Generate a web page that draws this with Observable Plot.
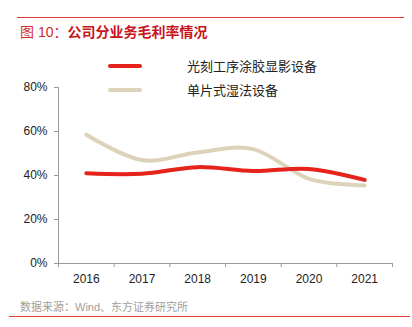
<!DOCTYPE html>
<html>
<head>
<meta charset="utf-8">
<script src="https://cdn.jsdelivr.net/npm/d3@7"></script>
<script src="https://cdn.jsdelivr.net/npm/@observablehq/plot@0.6"></script>
<style>
  html, body { margin: 0; padding: 0; background: #fff; }
  #wrap { position: relative; width: 412px; height: 327px; overflow: hidden; font-family: "Liberation Sans", "Noto Sans CJK SC", sans-serif; }
  #chart { position: absolute; left: 0; top: 0; }
  .topline { position: absolute; left: 17px; top: 17px; width: 387px; height: 1px; background: #e03a33; }
  .botline { position: absolute; left: 9px; top: 316px; width: 401px; height: 1px; background: #e03a33; }
  .title { position: absolute; left: 20px; top: 21px; font-size: 14px; color: #d22a24; font-family: "Liberation Sans", "Noto Sans CJK SC", sans-serif; white-space: nowrap; }
  .title b { color: #c8161d; font-weight: bold; }
  .source { position: absolute; left: 20px; top: 298px; font-size: 11px; color: #a0a0a0; font-family: "Liberation Sans", "Noto Sans CJK SC", sans-serif; white-space: nowrap; }
  .legend { position: absolute; left: 108px; font-size: 13px; color: #222; font-family: "Noto Sans CJK SC", sans-serif; white-space: nowrap; }
  .legend .sw { position: absolute; left: 0; top: -2px; width: 34px; height: 4px; border-radius: 2px; }
  .legend .lb { position: absolute; left: 79px; top: -10px; }
</style>
</head>
<body>
<div id="wrap">
  <div id="chart"></div>
  <div class="topline"></div>
  <div class="title">图 10：<b>公司分业务毛利率情况</b></div>
  <div id="legend"></div>
  <div class="source">数据来源：Wind、东方证券研究所</div>
  <div class="botline"></div>
</div>
<script>
const years = [2016, 2017, 2018, 2019, 2020, 2021];
const seriesNames = ["光刻工序涂胶显影设备", "单片式湿法设备"];
const coating = [0.41, 0.408, 0.438, 0.42, 0.43, 0.38];
const wet = [0.585, 0.47, 0.505, 0.52, 0.385, 0.355];
const colors = ["#e5231b", "#ddd3bb"];
const yTicks = [0, 0.2, 0.4, 0.6, 0.8];
const xBounds = [2015.5, 2016.5, 2017.5, 2018.5, 2019.5, 2020.5, 2021.5];

const data = [];
years.forEach((y, i) => {
  data.push({ year: y, value: coating[i], series: seriesNames[0] });
  data.push({ year: y, value: wet[i], series: seriesNames[1] });
});

const axisColor = "#9b9b9b";
const plot = Plot.plot({
  width: 412,
  height: 327,
  marginLeft: 58,
  marginRight: 20,
  marginTop: 87,
  marginBottom: 64,
  style: { fontFamily: "'Liberation Sans', Arial, sans-serif", fontSize: "12px", color: "#222", background: "transparent" },
  x: { domain: [2015.5, 2021.5] },
  y: { domain: [0, 0.8] },
  color: { domain: seriesNames, range: colors },
  marks: [
    Plot.ruleX([2015.5], { stroke: axisColor, strokeWidth: 1 }),
    Plot.ruleY([0], { stroke: axisColor, strokeWidth: 1 }),
    Plot.axisY({ ticks: yTicks, tickFormat: d3.format(".0%"), tickSize: 4, tickPadding: 7, stroke: axisColor, fill: "#222", label: null }),
    Plot.axisX({ ticks: xBounds, tickFormat: () => "", tickSize: 4, stroke: axisColor, label: null }),
    Plot.axisX({ ticks: years, tickFormat: d => String(d), tickSize: 0, tickPadding: 11, fill: "#222", label: null }),
    Plot.line(data.filter(d => d.series === seriesNames[1]), { x: "year", y: "value", stroke: "series", strokeWidth: 4, curve: "cardinal", tension: 0 }),
    Plot.line(data.filter(d => d.series === seriesNames[0]), { x: "year", y: "value", stroke: "series", strokeWidth: 4, curve: "cardinal", tension: 0 })
  ]
});
document.getElementById("chart").appendChild(plot);

const leg = document.getElementById("legend");
const legendTops = [66, 90];
seriesNames.forEach((name, i) => {
  const div = document.createElement("div");
  div.className = "legend";
  div.style.top = legendTops[i] + "px";
  div.innerHTML = `<div class="sw" style="background:${colors[i]}"></div><div class="lb">${name}</div>`;
  leg.appendChild(div);
});
</script>
</body>
</html>
